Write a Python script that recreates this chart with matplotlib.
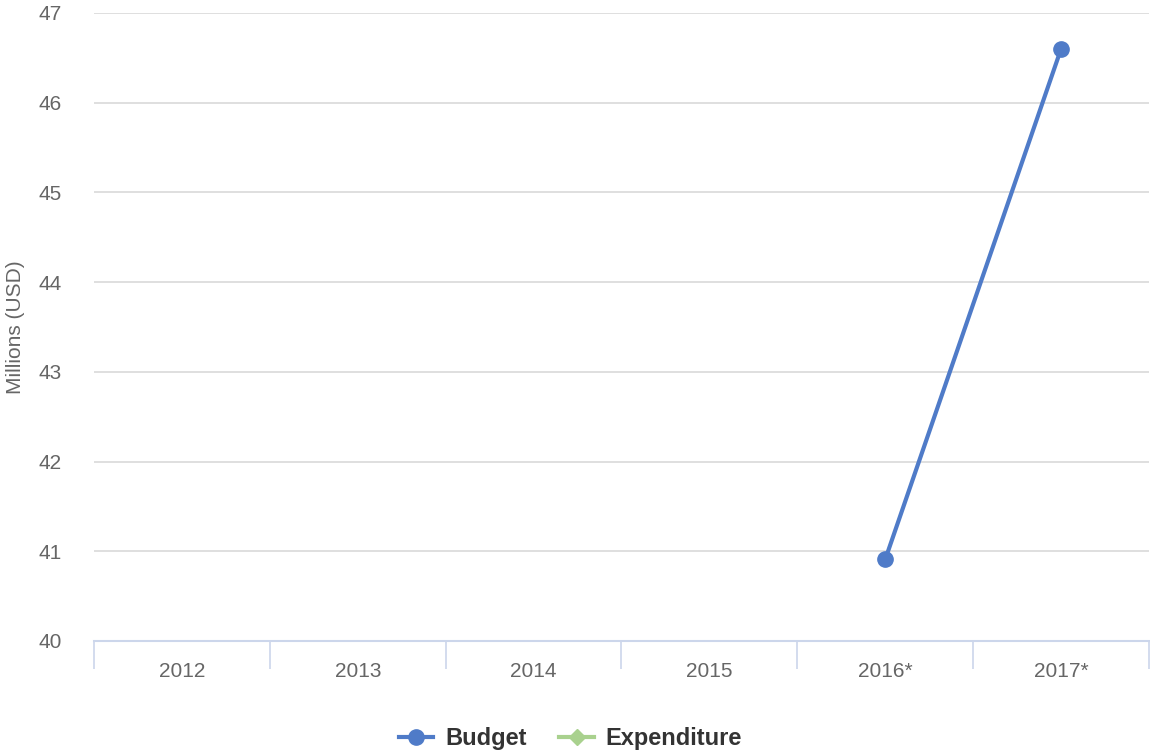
import numpy as np
import matplotlib.pyplot as plt
from matplotlib.lines import Line2D

plt.rcParams['font.family'] = ['Liberation Sans', 'DejaVu Sans']

# Dados
categories = ['2012', '2013', '2014', '2015', '2016*', '2017*']
budget = [None, None, None, None, 40.91, 46.6]
expenditure = [None, None, None, None, None, None]

blue = '#4f7bc8'
green = '#a9d18e'

fig = plt.figure(figsize=(11.5, 7.55), dpi=100)
ax = fig.add_axes([94 / 1150, 1 - 641 / 755, 1055 / 1150, (641 - 13) / 755])

x = np.arange(len(categories))
b = np.array([np.nan if v is None else v for v in budget], dtype=float)
e = np.array([np.nan if v is None else v for v in expenditure], dtype=float)

ax.plot(x, b, color=blue, lw=3, marker='o', ms=11, zorder=3)
ax.plot(x, e, color=green, lw=3, marker='D', ms=9, zorder=3)

ax.set_xlim(-0.5, len(categories) - 0.5)
ax.set_ylim(40, 47)
ax.set_yticks(range(40, 48))
ax.grid(axis='y', color='#d9d9d9', lw=1.2)
ax.set_axisbelow(True)

for s in ['top', 'right', 'left']:
    ax.spines[s].set_visible(False)
ax.spines['bottom'].set_color('#ccd6eb')
ax.spines['bottom'].set_linewidth(1.5)

# marcas entre categorias
ax.set_xticks(np.arange(len(categories) + 1) - 0.5)
ax.set_xticklabels([])
ax.tick_params(axis='x', length=20, width=1.2, color='#ccd6eb', direction='out')
ax.set_xticks(x, minor=True)
ax.set_xticklabels(categories, minor=True)
ax.tick_params(axis='x', which='minor', length=0, pad=15, labelsize=15, labelcolor='#666666')
ax.tick_params(axis='y', length=0, pad=23, labelsize=15, labelcolor='#666666')

ax.set_ylabel('Millions (USD)', fontsize=15, color='#666666')
ax.yaxis.set_label_coords(-69 / 1055, 0.5)

handles = [
    Line2D([], [], color=blue, lw=3, marker='o', ms=11),
    Line2D([], [], color=green, lw=3, marker='D', ms=8),
]
leg = fig.legend(handles, ['Budget', 'Expenditure'], loc='center', bbox_to_anchor=(0.496, 1 - 739 / 755),
                 ncol=2, frameon=False, handlelength=1.45, columnspacing=1.4, handletextpad=0.5,
                 prop={'weight': 'bold', 'size': 17})
for t in leg.get_texts():
    t.set_color('#333333')

fig.savefig('out.png', dpi=100)
